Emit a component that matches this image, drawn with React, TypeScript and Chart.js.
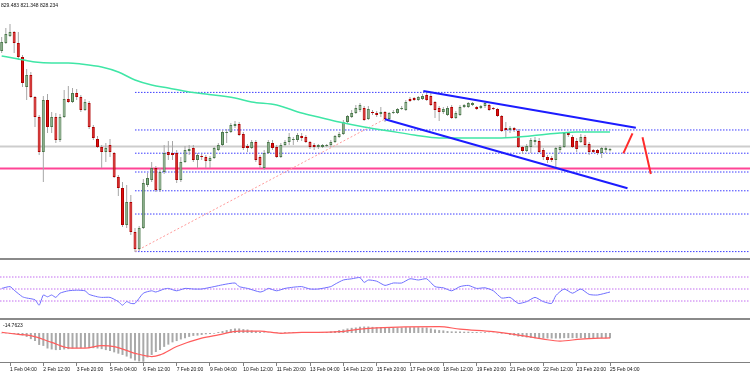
import React, { useEffect, useRef } from "react";
import { Chart, registerables } from "chart.js";
Chart.register(...registerables);

// ---------- data ----------
const FIRST_INDEX = -2; // first candle = 31 Jan 20:00 (H4 bars)
const X_MIN = -2.4;
const X_MAX = 177.6;

const opens = [
  1072.5, 1092.5, 1110, 1120, 1092.5, 1057.5, 982.5, 1012.5, 957.5, 907.5,
  820, 950, 882.5, 907.5, 850, 907.5, 952.5, 945, 967.5, 957.5,
  925, 942.5, 882.5, 852.5, 832.5, 820, 837.5, 817.5, 757.5, 730,
  637.5, 695, 620, 577.5, 630, 737.5, 750, 780, 725, 770,
  820, 817.5, 817.5, 750, 795, 822.5, 830, 800, 810, 807.5,
  797.5, 805, 825, 837.5, 867.5, 870, 885, 890, 865, 835,
  830, 845, 807.5, 780, 817.5, 842.5, 832.5, 807.5, 837.5, 845,
  850, 850, 860, 857.5, 845, 837.5, 832.5, 832.5, 835, 837.5,
  845, 857.5, 865, 895, 907.5, 917.5, 925, 930, 902.5, 920,
  917.5, 915, 920, 902.5, 917.5, 917.5, 927.5, 925, 952.5, 955,
  950, 952.5, 962.5, 960, 945, 930, 920, 912.5, 932.5, 905,
  912.5, 932.5, 932.5, 937.5, 932.5, 930, 935, 937.5, 930, 927.5,
  910, 880, 875, 880, 872.5, 832.5, 822.5, 832.5, 845, 847.5,
  825, 807.5, 805, 800, 825, 832.5, 867.5, 857.5, 847.5, 845,
  857.5, 840, 825, 825, 817.5, 825, 824,
];
const highs = [
  1107.5, 1130, 1140, 1122.5, 1120, 1062.5, 1027.5, 1020, 960, 912.5,
  960, 965, 920, 917.5, 915, 975, 985, 980, 977.5, 962.5,
  952.5, 947.5, 887.5, 860, 837.5, 842.5, 852.5, 820, 762.5, 745,
  737.5, 712.5, 630, 635, 752.5, 767.5, 795, 785, 780, 837.5,
  847.5, 847.5, 825, 807.5, 835, 837.5, 837.5, 817.5, 815, 812.5,
  810, 832.5, 842.5, 875, 877.5, 892.5, 897.5, 895, 870, 840,
  850, 850, 812.5, 825, 850, 850, 837.5, 842.5, 850, 867.5,
  857.5, 867.5, 867.5, 862.5, 847.5, 842.5, 840, 840, 840, 850,
  862.5, 870, 900, 912.5, 925, 937.5, 942.5, 935, 935, 925,
  922.5, 932.5, 922.5, 920, 925, 930, 935, 950, 957.5, 957.5,
  960, 965, 972.5, 967.5, 947.5, 935, 932.5, 935, 937.5, 922.5,
  937.5, 940, 945, 945, 935, 937.5, 947.5, 940, 932.5, 930,
  912.5, 895, 885, 882.5, 877.5, 835, 840, 855, 857.5, 855,
  830, 812.5, 810, 832.5, 837.5, 870, 870, 862.5, 855, 865,
  862.5, 845, 827.5, 827.5, 832.5, 835, 829.483,
];
const lows = [
  1067.5, 1090, 1107.5, 1067.5, 1050, 982.5, 950, 955, 882.5, 812.5,
  745, 867.5, 867.5, 842.5, 845, 905, 942.5, 942.5, 950, 920,
  922.5, 877.5, 850, 830, 780, 795, 807.5, 755, 710, 632.5,
  630, 612.5, 570, 572.5, 627.5, 732.5, 745, 720, 720, 765,
  800, 800, 742.5, 745, 792.5, 812.5, 795, 780, 800, 780,
  780, 802.5, 822.5, 835, 842.5, 867.5, 880, 860, 825, 820,
  827.5, 795, 780, 775, 815, 825, 805, 805, 835, 837.5,
  837.5, 845, 847.5, 842.5, 827.5, 825, 827.5, 830, 832.5, 832.5,
  842.5, 855, 862.5, 892.5, 905, 915, 920, 897.5, 900, 912.5,
  907.5, 907.5, 895, 900, 915, 915, 925, 922.5, 945, 947.5,
  947.5, 950, 947.5, 935, 905, 897.5, 915, 910, 902.5, 902.5,
  910, 930, 930, 935, 925, 927.5, 930, 922.5, 925, 907.5,
  870, 855, 867.5, 870, 830, 815, 820, 817.5, 837.5, 817.5,
  800, 792.5, 795, 782.5, 817.5, 830, 857.5, 830, 820, 842.5,
  832.5, 812.5, 817.5, 812.5, 805, 817.5, 821.348,
];
const closes = [
  1095, 1115, 1120, 1092.5, 1057.5, 992.5, 1012.5, 957.5, 907.5, 820,
  950, 882.5, 907.5, 850, 907.5, 952.5, 945, 967.5, 957.5, 925,
  945, 882.5, 855, 832.5, 820, 830, 820, 757.5, 730, 637.5,
  695, 620, 577.5, 630, 742.5, 755, 780, 725, 770, 817.5,
  812.5, 812.5, 750, 795, 825, 827.5, 800, 812.5, 807.5, 797.5,
  805, 830, 837.5, 870, 870, 887.5, 890, 862.5, 830, 830,
  845, 800, 787.5, 817.5, 845, 830, 807.5, 837.5, 845, 857.5,
  852.5, 862.5, 855, 845, 832.5, 832.5, 837.5, 837.5, 837.5, 845,
  860, 865, 895, 910, 917.5, 930, 937.5, 900, 927.5, 917.5,
  912.5, 920, 902.5, 917.5, 920, 927.5, 930, 945, 947.5, 950,
  957.5, 960, 950, 937.5, 925, 920, 927.5, 930, 905, 917.5,
  932.5, 937.5, 942.5, 942.5, 927.5, 935, 942.5, 925, 927.5, 910,
  872.5, 875, 880, 875, 832.5, 822.5, 835, 850, 850, 820,
  807.5, 800, 800, 830, 832.5, 867.5, 862.5, 832.5, 827.5, 857.5,
  837.5, 820, 820, 817.5, 830, 830, 828.234,
];

// moving average (read at sample bars)
const maIdx = [-2, 2, 6, 10, 14, 17, 22, 26, 30, 34, 38, 43, 47, 54, 58, 64, 70, 74, 79, 85, 91, 97, 103, 110, 117, 122, 127, 132, 136, 144];
const maVals = [1060, 1052.5, 1045, 1042.5, 1042.5, 1040, 1032.5, 1020, 1000, 987.5, 980, 970, 965, 955, 945, 937.5, 917.5, 907.5, 895, 882.5, 872.5, 862.5, 855, 855, 855, 857.5, 862.5, 867.5, 870, 870];

// Fibonacci retracement
const fibHigh = 969;
const fibLow = 571;
const fibStart = 30;
const fibRatios = [0, 0.236, 0.382, 0.5, 0.618, 0.764, 1];

// horizontal levels
const grayLevel = 833.5;
const pinkLevel = 779;

// drawn objects [barIndex, price]
const trendDotted = [[30, 571], [90, 902.5]];
const channelUpper = [[99.2, 972.5], [150.2, 880.75]];
const channelLower = [[90, 901.75], [148.2, 729.25]];
const arrowUp = [[147.2, 816.75], [149.4, 866.75]];
const arrowDown = [[151.8, 856.75], [153.8, 765]];

// RSI
const rsiIdx = [-2, 0, 1, 3, 4, 6, 7, 8, 9, 10, 11, 12, 14, 16, 18, 19, 21, 22, 24, 26, 27, 28, 29, 30, 32, 34, 35, 37, 38, 40, 42, 44, 46, 49, 51, 54, 55, 57, 60, 61, 62, 64, 66, 68, 70, 72, 74, 77, 78, 80, 82, 84, 85, 86, 88, 90, 92, 94, 96, 98, 100, 102, 104, 106, 108, 110, 112, 114, 116, 118, 120, 122, 124, 126, 128, 130, 131, 133, 135, 137, 139, 141, 144];
const rsiVals = [51, 54, 48, 37, 35, 32, 23, 40, 37, 40, 36, 43, 47, 48, 47, 41, 37, 36, 36, 29, 23, 29, 26, 26, 43, 47, 45, 50, 51, 47, 51, 50, 50, 54, 57, 60, 54, 51, 45, 47, 51, 47, 51, 53, 54, 50, 50, 54, 58, 65, 67, 69, 61, 65, 63, 56, 60, 60, 67, 65, 67, 54, 52, 47, 54, 56, 51, 52, 47, 35, 36, 26, 29, 36, 29, 26, 39, 50, 43, 50, 41, 40, 45];
const rsiLevels = [70, 50, 30];

// MACD
const macdHist = [
  -1, -1, -2, -3, -5, -8, -12, -19, -25, -37,
  -40, -48, -51, -53, -53, -51, -50, -48, -47, -47,
  -46, -47, -47, -48, -50, -53, -56, -60, -64, -68,
  -73, -79, -85, -88, -89, -76, -68, -59, -53, -43,
  -36, -29, -25, -20, -16, -12, -9, -8, -6, -4,
  -3, -2, 3, 6, 9, 12, 14, 14, 12, 11,
  8, 6, 3, 2, 1, 1, 2, 1, 2, 2,
  3, 2, 2, 2, 1, 1, 2, 2, 3, 5,
  6, 9, 11, 14, 16, 17, 19, 20, 20, 19,
  18, 18, 17, 17, 17, 17, 17, 18, 18, 18,
  18, 17, 17, 14, 11, 9, 8, 6, 5, 5,
  5, 4, 4, 3, 3, 2, 2, 1, 1, -1,
  -2, -3, -6, -8, -11, -12, -14, -15, -16, -17,
  -17, -17, -17, -17, -17, -16, -16, -16, -16, -16,
  -16, -16, -16, -16, -16, -16, -16,
];
const signalIdx = [-2, 2, 5, 10, 14, 18, 22, 25, 30, 34, 36, 40, 46, 50, 55, 60, 65, 70, 74, 79, 84, 88, 103, 108, 116, 121, 128, 132, 137, 144];
const signalVals = [2, -4, -8, -29, -46, -47, -39, -42, -63, -73, -68, -42, -16, -6, 6, 6, -1, 2, 2, 4, 12, 16, 20, 12, 4, -4, -19, -25, -19, -15];

// time axis
const tickIdx = [0, 8, 16, 24, 32, 40, 48, 56, 64, 72, 80, 88, 96, 104, 112, 120, 128, 136, 144];
const tickLabels = [
  "1 Feb 04:00", "2 Feb 12:00", "3 Feb 20:00", "5 Feb 04:00", "6 Feb 12:00",
  "7 Feb 20:00", "9 Feb 04:00", "10 Feb 12:00", "11 Feb 20:00", "13 Feb 04:00",
  "14 Feb 12:00", "15 Feb 20:00", "17 Feb 04:00", "18 Feb 12:00", "19 Feb 20:00",
  "21 Feb 04:00", "22 Feb 12:00", "23 Feb 20:00", "25 Feb 04:00",
];
const headerText = "829.483 821.348 828.234";
const macdLabel = "-14.7623";

// ---------- helpers ----------
const FONT = '"Liberation Sans", Arial, sans-serif';

const seg = (pts: number[][], color: string, width: number, dash: number[], order: number, tension = 0) => ({
  type: "line" as const,
  data: pts.map(([x, y]) => ({ x, y })),
  borderColor: color,
  backgroundColor: color,
  borderWidth: width,
  borderDash: dash,
  pointRadius: 0,
  fill: false,
  tension,
  order,
});

const textPlugin = (id: string, text: string, x: number, y: number) => ({
  id,
  afterDraw(chart: any) {
    const c = chart.ctx;
    c.save();
    c.font = `5px ${FONT}`;
    c.fillStyle = "#111";
    c.textBaseline = "alphabetic";
    c.fillText(text, x, y);
    c.restore();
  },
});

const baseOptions = {
  responsive: false,
  animation: false as const,
  events: [] as any[],
  layout: { padding: 0 },
  plugins: { legend: { display: false }, tooltip: { enabled: false } },
};

function mainConfig(): any {
  const xs = opens.map((_, k) => FIRST_INDEX + k);
  const up = (k: number) => closes[k] >= opens[k];
  const datasets: any[] = [];
  datasets.push(seg([[X_MIN, grayLevel], [X_MAX, grayLevel]], "#cdcdcd", 2, [], 9));
  datasets.push(seg([[X_MIN, pinkLevel], [X_MAX, pinkLevel]], "#ff4596", 2, [], 9));
  fibRatios.forEach((r) => {
    const lvl = fibHigh - r * (fibHigh - fibLow);
    datasets.push(seg([[fibStart, lvl], [X_MAX, lvl]], "#3c3cff", 1, [1.5, 1.5], 8));
  });
  datasets.push(seg(trendDotted, "#ff9a9a", 1, [2, 2], 7));
  datasets.push({
    type: "bar",
    data: xs.map((x, k) => ({ x, y: [lows[k], highs[k]] })),
    backgroundColor: "#a6a6a6",
    barThickness: 1,
    grouped: false,
    inflateAmount: 0,
    order: 6,
  });
  datasets.push({
    type: "bar",
    data: xs.map((x, k) => ({ x, y: [opens[k], closes[k]] })),
    backgroundColor: xs.map((_, k) => (up(k) ? "#86ad86" : "#e01010")),
    borderColor: xs.map((_, k) => (up(k) ? "#4d7a4d" : "#b00000")),
    borderWidth: 1,
    borderSkipped: false,
    barThickness: 3,
    grouped: false,
    inflateAmount: 0,
    order: 5,
  });
  datasets.push({
    ...seg(maIdx.map((x, k) => [x, maVals[k]]), "#3fe6a6", 1.5, [], 4, 0.4),
    cubicInterpolationMode: "monotone",
  });
  datasets.push(seg(channelUpper, "#1c1cff", 2, [], 3));
  datasets.push(seg(channelLower, "#1c1cff", 2, [], 3));
  datasets.push(seg(arrowUp, "#ff2b2b", 2, [], 2));
  datasets.push(seg(arrowDown, "#ff2b2b", 2, [], 2));
  return {
    type: "bar",
    data: { datasets },
    options: {
      ...baseOptions,
      scales: {
        x: { type: "linear", min: X_MIN, max: X_MAX, display: false, offset: false },
        y: { type: "linear", min: 555, max: 1200, display: false },
      },
    },
    plugins: [textPlugin("hdr", headerText, 1, 6.5)],
  };
}

function rsiConfig(): any {
  const datasets: any[] = rsiLevels.map((l) => seg([[X_MIN, l], [X_MAX, l]], "#c36df0", 1, [1.5, 1.5], 3));
  datasets.push(seg(rsiIdx.map((x, k) => [x, rsiVals[k]]), "#6f6fff", 1, [], 1, 0.2));
  return {
    type: "line",
    data: { datasets },
    options: {
      ...baseOptions,
      scales: {
        x: { type: "linear", min: X_MIN, max: X_MAX, display: false, offset: false },
        y: { type: "linear", min: 0, max: 100, display: false },
      },
    },
  };
}

function macdConfig(): any {
  const xs = macdHist.map((_, k) => FIRST_INDEX + k);
  return {
    type: "bar",
    data: {
      datasets: [
        {
          type: "bar",
          data: xs.map((x, k) => ({ x, y: macdHist[k] })),
          backgroundColor: "#a9a9a9",
          barThickness: 2,
          grouped: false,
          inflateAmount: 0,
          order: 2,
        },
        {
          ...seg(signalIdx.map((x, k) => [x, signalVals[k]]), "#ff5c5c", 1.2, [], 1, 0.4),
          cubicInterpolationMode: "monotone",
        },
      ],
    },
    options: {
      ...baseOptions,
      scales: {
        x: {
          type: "linear",
          min: X_MIN,
          max: X_MAX,
          offset: false,
          position: "bottom",
          afterBuildTicks: (scale: any) => {
            scale.ticks = tickIdx.map((v) => ({ value: v }));
          },
          afterFit: (scale: any) => {
            scale.height = 13;
          },
          grid: { display: true, drawOnChartArea: false, drawTicks: true, tickLength: 4, color: "#808080", offset: false },
          border: { display: true, color: "#808080", width: 1 },
          ticks: {
            autoSkip: false,
            maxRotation: 0,
            minRotation: 0,
            align: "start",
            padding: 1,
            color: "#111",
            font: { size: 5, family: FONT },
            callback: (_v: any, i: number) => tickLabels[i],
          },
        },
        y: { type: "linear", min: -89.9, max: 40.3, display: false },
      },
    },
    plugins: [textPlugin("macdTxt", macdLabel, 3, 6.5)],
  };
}

function ChartCanvas({ top, height, make }: { top: number; height: number; make: () => any }) {
  const ref = useRef<HTMLCanvasElement | null>(null);
  useEffect(() => {
    const chart = new Chart(ref.current as HTMLCanvasElement, make());
    return () => chart.destroy();
  }, []);
  return (
    <canvas
      ref={ref}
      width={750}
      height={height}
      style={{ position: "absolute", left: 0, top, width: 750, height }}
    />
  );
}

export default function App() {
  return (
    <div style={{ position: "absolute", left: 0, top: 0, width: 750, height: 375, background: "#fff", overflow: "hidden" }}>
      <ChartCanvas top={0} height={258} make={mainConfig} />
      <ChartCanvas top={259} height={60} make={rsiConfig} />
      <ChartCanvas top={320} height={55} make={macdConfig} />
      <div style={{ position: "absolute", left: 0, top: 258, width: 750, height: 2, background: "#8a8a8a" }} />
      <div style={{ position: "absolute", left: 0, top: 318, width: 750, height: 2, background: "#8a8a8a" }} />
    </div>
  );
}
